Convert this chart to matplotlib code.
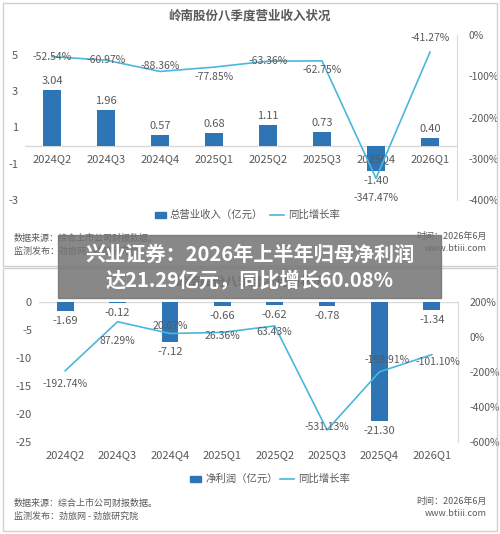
import matplotlib.pyplot as plt
from matplotlib.patches import Rectangle

plt.rcParams['font.family'] = ['Noto Sans CJK SC', 'DejaVu Sans']

quarters = ['2024Q2', '2024Q3', '2024Q4', '2025Q1', '2025Q2', '2025Q3', '2025Q4', '2026Q1']
revenue = [3.04, 1.96, 0.57, 0.68, 1.11, 0.73, -1.40, 0.40]
revenue_yoy = [-52.54, -60.97, -88.36, -77.85, -63.36, -62.75, -347.47, -41.27]
profit = [-1.69, -0.12, -7.12, -0.66, -0.62, -0.78, -21.30, -1.34]
profit_yoy = [-192.74, 87.29, 20.07, 26.36, 63.43, -531.13, -198.91, -101.10]

BAR = '#2E75B6'
LINE = '#4BB6DE'
GREY = '#595959'
W, H = 500, 534


def fx(px):
    return px / W


def fy(py):
    return 1 - py / H


fig = plt.figure(figsize=(5, 5.34), dpi=100)

# panel borders
for y0, y1 in [(3, 266), (268, 531)]:
    fig.patches.append(Rectangle((fx(3), fy(y1)), fx(494), (y1 - y0) / H, transform=fig.transFigure,
                                 fill=False, edgecolor='#d0d0d0', lw=1))

titles = {16: '岭南股份八季度营业收入状况', 282: '岭南股份八季度净利润状况'}


def panel(rect, bars, yoy, ylim, ryl, lticks, rticks, bar_off, pct_off, title, label_y, label_gap):
    ax = fig.add_axes(rect)
    x = range(len(quarters))
    ax.bar(x, bars, width=0.32, color=BAR, zorder=3)
    ax.set_xlim(-0.5, len(quarters) - 0.5)
    ax.set_ylim(*ylim)
    ax.set_yticks(lticks)
    ax.set_yticklabels([str(t) for t in lticks], fontsize=8, color=GREY)
    ax.tick_params(axis='y', length=0, pad=5)
    ax.set_xticks([])
    for s in ax.spines.values():
        s.set_visible(False)
    ax.axhline(0, color='#d9d9d9', lw=1, zorder=2)
    for i, q in enumerate(quarters):
        ax.annotate(q, (i, label_y), xytext=(0, -label_gap), textcoords='offset pixels',
                    ha='center', va='center', fontsize=8, color=GREY)
    for i, v in enumerate(bars):
        ax.annotate(f'{v:.2f}', (i, v), xytext=(0, bar_off[i]), textcoords='offset pixels',
                    ha='center', va='center', fontsize=8, color=GREY, zorder=5)
    ax2 = ax.twinx()
    ax2.plot(list(x), yoy, color=LINE, lw=1.2, zorder=4)
    ax2.set_ylim(*ryl)
    ax2.set_yticks(rticks)
    ax2.set_yticklabels([f'{t}%' for t in rticks], fontsize=7.5, color=GREY)
    ax2.tick_params(axis='y', length=0, pad=8)
    for s in ['top', 'left', 'bottom']:
        ax2.spines[s].set_visible(False)
    ax2.spines['right'].set_color('#d9d9d9')
    for i, v in enumerate(yoy):
        dx, dy = pct_off[i]
        ax2.annotate(f'{v:.2f}%', (i, v), xytext=(dx, dy), textcoords='offset pixels',
                     ha='center', va='center', fontsize=7.5, color=GREY, zorder=5)
    fig.text(0.5, fy(title), titles[title], ha='center', va='center', fontsize=9,
             fontweight='bold', color=GREY)
    return ax


panel([fx(25), fy(200), fx(432), 165 / H], revenue, revenue_yoy, (-3, 6.1), (-400, 0),
      [5, 3, 1, -1, -3], [0, -100, -200, -300, -400],
      [9, 9, 9, 9, 9, 9, -10, 9], [(0, 0), (0, 0), (0, 5), (0, -10), (0, 0), (0, -9), (0, -20), (0, 14)],
      16, 0, 13)
panel([fx(39), fy(442), fx(419), 140 / H], profit, profit_yoy, (-25, 0), (-600, 200),
      [0, -5, -10, -15, -20, -25], [200, 0, -200, -400, -600],
      [-10, -10, -10, -10, -10, -10, -10, -10],
      [(0, -13), (0, -19), (0, 7), (0, -4), (0, -6), (0, 3), (8, 12), (6, -7)],
      282, -25, 13)

# legends
for ly, name in [(215, '总营业收入（亿元）'), (479, '净利润（亿元）')]:
    lx = 155 if ly == 215 else 190
    fig.patches.append(Rectangle((fx(lx), fy(ly + 3)), fx(11), 6 / H, transform=fig.transFigure,
                                 color=BAR))
    fig.text(fx(lx + 15), fy(ly), name, fontsize=7.5, color=GREY, va='center')
    l2 = lx + 115 if ly == 215 else lx + 90
    fig.lines.append(plt.Line2D([fx(l2), fx(l2 + 14)], [fy(ly), fy(ly)], transform=fig.transFigure,
                                color=LINE, lw=1.2))
    fig.text(fx(l2 + 18), fy(ly), '同比增长率', fontsize=7.5, color=GREY, va='center')

# footers
for top in [238, 503]:
    fig.text(fx(14), fy(top), '数据来源：综合上市公司财报数据。', fontsize=6.5, color=GREY, va='center')
    fig.text(fx(14), fy(top + 13), '监测发布：劲旅网 - 劲旅研究院', fontsize=6.5, color=GREY, va='center')
    fig.text(fx(487), fy(top - 2), '时间：2026年6月', fontsize=6.5, color=GREY, va='center', ha='right')
    fig.text(fx(487), fy(top + 11), 'www.btiii.com', fontsize=6.5, color=GREY, va='center', ha='right')

# headline banner
fig.patches.append(Rectangle((fx(58), fy(298)), fx(383), 63 / H, transform=fig.transFigure,
                             color='#737373', alpha=0.85, zorder=10))
fig.text(0.5, fy(254), '兴业证券：2026年上半年归母净利润', fontsize=14.5, fontweight='bold',
         color='white', ha='center', va='center', zorder=11)
fig.text(0.5, fy(280), '达21.29亿元，同比增长60.08%', fontsize=14.5, fontweight='bold',
         color='white', ha='center', va='center', zorder=11)

fig.savefig('out.png', dpi=100)
